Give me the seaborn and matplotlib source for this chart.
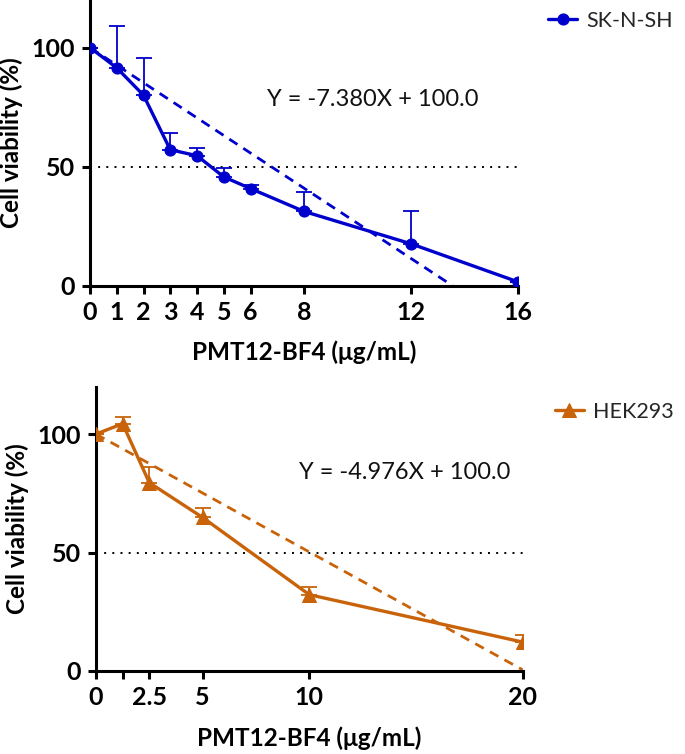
import matplotlib
matplotlib.use("Agg")
import matplotlib.pyplot as plt
import seaborn as sns
import numpy as np
import pandas as pd

# ---- data ----
sk_x = [0, 1, 2, 3, 4, 5, 6, 8, 12, 16]
sk_y = [100.0, 91.5, 80.0, 57.1, 54.6, 45.7, 40.8, 31.2, 17.6, 1.6]
sk_err = [0.0, 17.6, 15.5, 6.9, 3.1, 3.7, 1.7, 8.1, 13.9, 0.0]
sk_slope = -7.380
sk_intercept = 100.0
sk_ticks = [0, 1, 2, 3, 4, 5, 6, 8, 12, 16]
sk_ticklabels = ["0", "1", "2", "3", "4", "5", "6", "8", "12", "16"]

hek_x = [0, 1.25, 2.5, 5, 10, 20]
hek_y = [100.0, 104.4, 79.5, 64.8, 32.2, 12.2]
hek_err = [0.0, 2.8, 6.5, 3.9, 3.3, 3.1]
hek_slope = -4.976
hek_intercept = 100.0
hek_ticks = [0, 1.25, 2.5, 5, 10, 20]
hek_ticklabels = ["0", "", "2.5", "5", "10", "20"]

y_ticks = [0, 50, 100]

sns.set_theme(style="ticks")
plt.rcParams['font.family'] = ['Lato', 'DejaVu Sans']

fig = plt.figure(figsize=(6.85, 7.54), dpi=100)
ax1 = fig.add_axes([0.1314, 0.6211, 0.6248, 0.3789])
ax2 = fig.add_axes([0.1401, 0.1101, 0.6229, 0.3770])

BLUE = "#0000CC"
ORANGE = "#C8630A"


def panel(ax, xs, ys, errs, slope, intercept, color, marker, msize, label,
          xmax, ticks, ticklabels, eq_text, eq_xy, legend_xy):
    df = pd.DataFrame({"x": xs, "y": ys})
    # error bars (upper only)
    ax.errorbar(xs, ys, yerr=[np.zeros(len(errs)), errs], fmt="none",
                ecolor=color, elinewidth=1.3, capsize=6, capthick=1.3, zorder=2)
    sns.lineplot(data=df, x="x", y="y", ax=ax, color=color, linewidth=2.4,
                 marker=marker, markersize=msize, markeredgecolor=color,
                 label=label, zorder=3)
    # linear fit (dashed)
    x_end = min(xmax, -intercept / slope)
    fx = np.array([0, x_end])
    ax.plot(fx, slope * fx + intercept, linestyle=(0, (3.5, 2.5)), color=color,
            linewidth=2.0, zorder=2)
    # 50% line
    ax.plot([0, xmax], [50, 50], linestyle=(0, (1, 3.2)), color="black",
            linewidth=1.4, zorder=1)
    ax.text(eq_xy[0], eq_xy[1], eq_text, fontsize=17, va="center",
            ha="left", color="#111111")
    ax.set_xlim(0, xmax)
    ax.set_ylim(0, 120)
    ax.set_xticks(ticks)
    ax.set_xticklabels(ticklabels)
    ax.set_yticks(y_ticks)
    for s in ["top", "right"]:
        ax.spines[s].set_visible(False)
    for s in ["left", "bottom"]:
        ax.spines[s].set_linewidth(2.2)
        ax.spines[s].set_color("black")
    ax.tick_params(axis="both", direction="out", length=6, width=2.2,
                   color="black", labelsize=18, pad=5, labelcolor="black")
    for t in ax.get_xticklabels() + ax.get_yticklabels():
        t.set_fontweight("bold")
    ax.set_ylabel("Cell viability (%)", fontsize=17.5, fontweight="bold",
                  labelpad=6, color="black")
    ax.set_xlabel("PMT12-BF4 (μg/mL)", fontsize=17.5, fontweight="bold",
                  labelpad=12, color="black")
    ax.set_facecolor("white")
    leg = ax.legend(loc="upper left", bbox_to_anchor=legend_xy,
                    frameon=False, fontsize=15.5, handlelength=1.35,
                    handletextpad=0.45, borderaxespad=0, borderpad=0.3)
    for line in leg.get_lines():
        line.set_linewidth(2.4)
    ax.grid(False)


panel(ax1, sk_x, sk_y, sk_err, sk_slope, sk_intercept, BLUE, "o", 8,
      "SK-N-SH", 16, sk_ticks, sk_ticklabels, "Y = -7.380X + 100.0",
      (6.6, 78), (1.055, 0.985))
panel(ax2, hek_x, hek_y, hek_err, hek_slope, hek_intercept, ORANGE, "^", 9.5,
      "HEK293", 20, hek_ticks, hek_ticklabels, "Y = -4.976X + 100.0",
      (9.5, 84), (1.06, 0.97))

fig.savefig("out.png", dpi=100, facecolor="white")
